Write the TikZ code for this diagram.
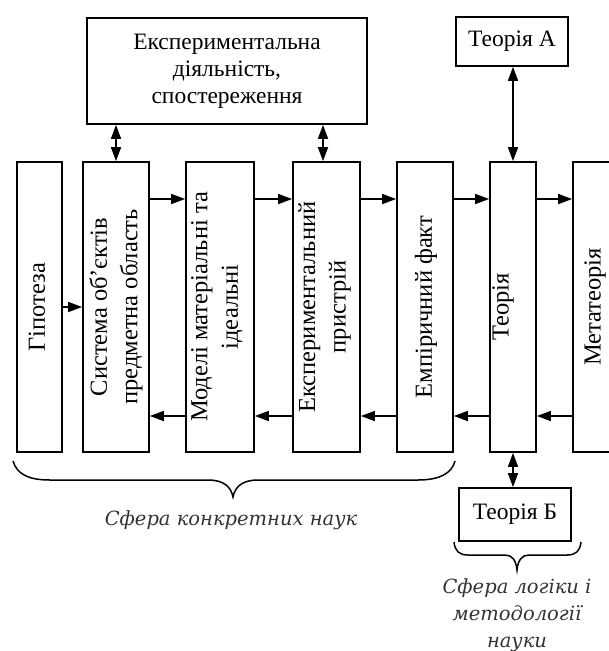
\documentclass[tikz,border=0pt]{standalone}
\usepackage{fontspec}
\setmainfont{Liberation Serif}
\newfontfamily\decofont{DejaVu Serif}
\usetikzlibrary{arrows.meta}
\begin{document}
\begin{tikzpicture}[x=1pt,y=-1pt,
  box/.style={draw,line width=1.7pt,inner sep=0pt,minimum height=290pt},
  lbl/.style={rotate=90,align=center,font=\fontsize{24.5}{30.5}\selectfont,inner sep=0pt},
  tbox/.style={draw,line width=1.7pt,inner sep=0pt,align=center,font=\fontsize{23.5}{27}\selectfont},
  arr/.style={line width=1.6pt,-{Triangle[length=14pt,width=10pt]}},
  dbl/.style={line width=1.6pt,{Triangle[length=14pt,width=10pt]}-{Triangle[length=14pt,width=10pt]}},
  brace/.style={line width=1.5pt},
  sphere/.style={font=\decofont\itshape\fontsize{19.5}{27}\selectfont,text=black!80,align=center,inner sep=0pt}]
\useasboundingbox (0,0) rectangle (609,651);
\clip (0,0) rectangle (609,651);
% column boxes
\node[box,minimum width=45pt] (hyp) at (39.5,307) {};
\node[box,minimum width=66pt] (sys) at (116,307) {};
\node[box,minimum width=68pt] (mod) at (220,307) {};
\node[box,minimum width=67pt] (exp) at (326.5,307) {};
\node[box,minimum width=56pt] (emp) at (425,307) {};
\node[box,minimum width=46pt] (teo) at (513,307) {};
\node[box,minimum width=57pt] (meta) at (601.5,307) {};
% column texts
\node[lbl] (thyp) at (37,307) {Гіпотеза};
\node[lbl] (tsys) at (116,307) {Система об’єктів\\предметна область};
\node[lbl] (tmod) at (217,307) {Моделі матеріальні та\\ідеальні};
\node[lbl] (texp) at (324.5,307) {Експериментальний\\пристрій};
\node[lbl] (temp) at (426,307) {Емпіричний факт};
\node[lbl] (tteo) at (503,307) {Теорія};
\node[lbl] (tmeta) at (595,307) {Метатеорія};
% upper and lower boxes
\node[tbox,minimum width=280pt,minimum height=106pt] (top) at (227,71) {Експериментальна\\діяльність,\\спостереження};
\node[tbox,minimum width=112pt,minimum height=49pt] (tA) at (512,41.5) {Теорія А};
\node[tbox,minimum width=112pt,minimum height=53pt] (tB) at (515,514.5) {Теорія Б};
% row coordinates
\coordinate (r1) at (0,199);
\coordinate (r2) at (0,416);
\coordinate (r0) at (0,307);
% forward arrows
\draw[arr] (hyp.east |- r0) -- (sys.west |- r0);
\draw[arr] (sys.east |- r1) -- (mod.west |- r1);
\draw[arr] (mod.east |- r1) -- (exp.west |- r1);
\draw[arr] (exp.east |- r1) -- (emp.west |- r1);
\draw[arr] (emp.east |- r1) -- (teo.west |- r1);
\draw[arr] (teo.east |- r1) -- (meta.west |- r1);
% backward arrows
\draw[arr] (mod.west |- r2) -- (sys.east |- r2);
\draw[arr] (exp.west |- r2) -- (mod.east |- r2);
\draw[arr] (emp.west |- r2) -- (exp.east |- r2);
\draw[arr] (teo.west |- r2) -- (emp.east |- r2);
\draw[arr] (meta.west |- r2) -- (teo.east |- r2);
% vertical double arrows
\draw[dbl] (sys.north) -- (sys.north |- top.south);
\draw[dbl] ([xshift=-3.5pt]exp.north) -- ([xshift=-3.5pt]exp.north |- top.south);
\draw[dbl] (teo.north) -- (teo.north |- tA.south);
\draw[dbl] (teo.south) -- (teo.south |- tB.north);
% braces
\draw[brace] (13,461) .. controls (17,474) and (28,480) .. (50,480) -- (208,480)
  .. controls (224,480) and (231,487) .. (233,497)
  .. controls (235,487) and (242,480) .. (258,480) -- (418,480)
  .. controls (440,480) and (452,473) .. (455,461);
\draw[brace] (454,542) .. controls (455,551) and (459,555) .. (468,555) -- (505,555)
  .. controls (512,555) and (516,560) .. (517,570)
  .. controls (518,560) and (522,555) .. (529,555) -- (567,555)
  .. controls (576,555) and (580,551) .. (581,542);
% sphere labels
\node[sphere] (s1) at (231,520) {Сфера конкретних наук};
\node[sphere] (s2) at (517,615) {Сфера логіки і\\методології\\науки};
\end{tikzpicture}
\end{document}
